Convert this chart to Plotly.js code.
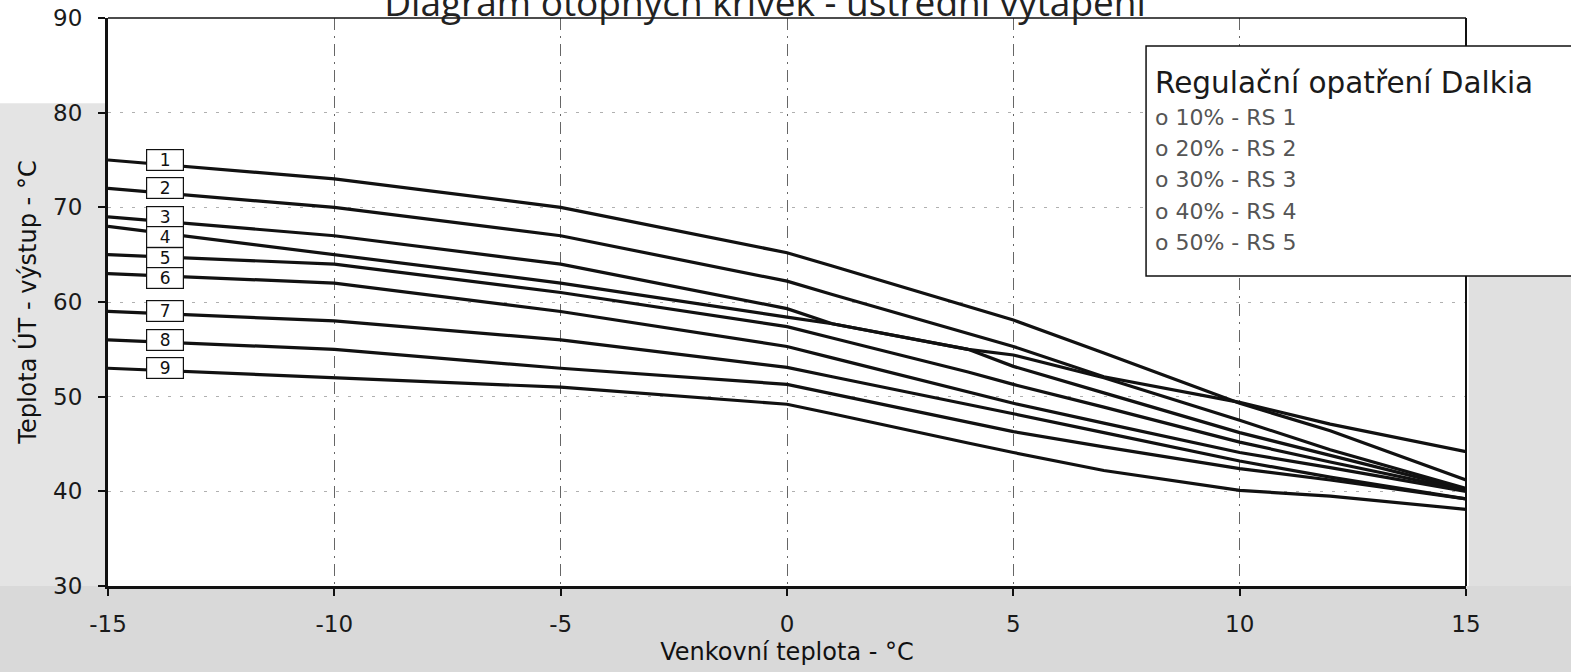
<!DOCTYPE html>
<html>
<head>
<meta charset="utf-8">
<script src="https://cdn.plot.ly/plotly-3.0.1.min.js"></script>
<style>
  html, body { margin: 0; padding: 0; background: #ffffff; }
  #chart { width: 1571px; height: 672px; }
</style>
</head>
<body>
<div id="chart"></div>
<script>
// ---- data ----
const chartTitle = 'Diagram otopných křivek - ústřední vytápění';
const xTitle = 'Venkovní teplota - °C';
const yTitle = 'Teplota ÚT - výstup - °C';

const outdoorTemps = [-15, -10, -5, 0, 1, 4, 5, 7, 10, 12, 15];

const curve1 = [75, 73, 70, 65.2, 63.8, 59.5, 58.1, 54.6, 49.3, 46.4, 41.2];
const curve2 = [72, 70, 67, 62.2, 60.8, 56.7, 55.3, 52.1, 49.4, 47.1, 44.2];
const curve3 = [69, 67, 64, 59.3, 57.7, 55.0, 54.4, 52.0, 47.5, 44.4, 40.3];
const curve4 = [68, 65, 62, 58.4, 57.7, 55.0, 53.2, 50.4, 46.2, 43.8, 40.2];
const curve5 = [65, 64, 61, 57.4, 56.2, 52.6, 51.3, 48.9, 45.2, 43.1, 40.1];
const curve6 = [63, 62, 59, 55.3, 54.1, 50.5, 49.3, 47.2, 44.1, 42.5, 40.0];
const curve7 = [59, 58, 56, 53.1, 52.1, 49.2, 48.2, 46.2, 43.2, 41.5, 39.2];
const curve8 = [56, 55, 53, 51.3, 50.3, 47.3, 46.3, 44.7, 42.4, 41.2, 39.2];
const curve9 = [53, 52, 51, 49.2, 48.2, 45.1, 44.1, 42.2, 40.1, 39.5, 38.1];

const curveLabels = ['1', '2', '3', '4', '5', '6', '7', '8', '9'];

const xTickVals = [-15, -10, -5, 0, 5, 10, 15];
const yTickVals = [30, 40, 50, 60, 70, 80, 90];

const legendTitle = 'Regulační opatření Dalkia';
const legendItems = ['o 10% - RS 1', 'o 20% - RS 2', 'o 30% - RS 3', 'o 40% - RS 4', 'o 50% - RS 5'];

// ---- build chart ----
const curves = [curve1, curve2, curve3, curve4, curve5, curve6, curve7, curve8, curve9];
const FONT = 'DejaVu Sans, Verdana, sans-serif';

const traces = curves.map((ys, i) => ({
  type: 'scatter',
  mode: 'lines',
  x: outdoorTemps,
  y: ys,
  name: curveLabels[i],
  line: { color: '#111111', width: 3.2, shape: 'linear' },
  hoverinfo: 'x+y+name'
}));

// label boxes near the left end, stacked so they do not overlap
const labelX = -13.75;
const boxHeightUnits = 2.17;
const annotations = [];
let prevY = Infinity;
curves.forEach((ys, i) => {
  const y = Math.min(ys[0], prevY - boxHeightUnits);
  prevY = y;
  annotations.push({
    x: labelX, y: y, xref: 'x', yref: 'y',
    text: curveLabels[i], showarrow: false,
    font: { family: FONT, size: 17, color: '#111' },
    bgcolor: '#ffffff', bordercolor: '#111', borderwidth: 1.2, borderpad: 0.5,
    width: 35, height: 19, xanchor: 'center', yanchor: 'middle'
  });
});

// legend-like text box (top right)
annotations.push({
  x: 0.7695, y: 0.8856, xref: 'paper', yref: 'paper',
  text: legendTitle, showarrow: false, xanchor: 'left', yanchor: 'middle',
  font: { family: FONT, size: 29.5, color: '#1a1a1a' }
});
const itemY = [0.8257, 0.7711, 0.7148, 0.6585, 0.6039];
legendItems.forEach((t, i) => {
  annotations.push({
    x: 0.7695, y: itemY[i], xref: 'paper', yref: 'paper',
    text: t, showarrow: false, xanchor: 'left', yanchor: 'middle',
    font: { family: FONT, size: 22, color: '#555555' }
  });
});

const shapes = [
  // scanned-paper grey margins
  { type: 'rect', xref: 'paper', yref: 'paper', x0: -0.2, x1: 1.2, y0: -0.2, y1: 0,
    fillcolor: '#d9d9d9', line: { width: 0 }, layer: 'below' },
  { type: 'rect', xref: 'paper', yref: 'paper', x0: -0.2, x1: -0.002, y0: 0, y1: 0.85,
    fillcolor: '#e4e4e4', line: { width: 0 }, layer: 'below' },
  { type: 'rect', xref: 'paper', yref: 'paper', x0: 1.002, x1: 1.2, y0: 0, y1: 0.546,
    fillcolor: '#e0e0e0', line: { width: 0 }, layer: 'below' },
  // top and right frame
  { type: 'line', xref: 'paper', yref: 'paper', x0: 0, x1: 1, y0: 1, y1: 1,
    line: { color: '#111', width: 1.6 }, layer: 'above' },
  { type: 'line', xref: 'paper', yref: 'paper', x0: 1, x1: 1, y0: 0, y1: 1,
    line: { color: '#111', width: 2 }, layer: 'above' },
  // legend box
  { type: 'rect', xref: 'paper', yref: 'paper', x0: 0.7644, x1: 1.2, y0: 0.5458, y1: 0.9507,
    fillcolor: '#ffffff', line: { color: '#111', width: 1.5 }, layer: 'above' }
];

const layout = {
  width: 1571, height: 672,
  margin: { l: 108, r: 105, t: 18, b: 86 },
  paper_bgcolor: '#ffffff', plot_bgcolor: '#ffffff',
  showlegend: false,
  title: {
    text: chartTitle, xref: 'container', yref: 'container',
    x: 0.487, xanchor: 'center', y: 0.9955, yanchor: 'middle',
    font: { family: 'Open Sans, sans-serif', size: 37, color: '#222' }
  },
  xaxis: {
    range: [-15, 15], tickvals: xTickVals, ticktext: xTickVals.map(String),
    ticks: 'outside', ticklen: 7, tickwidth: 2, tickcolor: '#111',
    showline: true, linewidth: 3, linecolor: '#111', zeroline: false,
    showgrid: true, gridcolor: '#666666', gridwidth: 1, griddash: '12px,6px,2px,6px',
    tickfont: { family: FONT, size: 23, color: '#1a1a1a' },
    ticklabelstandoff: 8,
    title: { text: xTitle, font: { family: FONT, size: 24, color: '#111' }, standoff: 8 },
    fixedrange: true
  },
  yaxis: {
    range: [30, 90], tickvals: yTickVals, ticktext: yTickVals.map(String),
    ticks: 'outside', ticklen: 7, tickwidth: 2, tickcolor: '#111',
    showline: true, linewidth: 3, linecolor: '#111', zeroline: false,
    showgrid: true, gridcolor: '#b0b0b0', gridwidth: 1, griddash: '3px,9px',
    tickfont: { family: FONT, size: 23, color: '#1a1a1a' },
    ticklabelstandoff: 11,
    title: { text: yTitle, font: { family: FONT, size: 24, color: '#111' }, standoff: 10 },
    fixedrange: true
  },
  shapes: shapes,
  annotations: annotations
};

Plotly.newPlot('chart', traces, layout, { displayModeBar: false, staticPlot: true });
</script>
</body>
</html>
